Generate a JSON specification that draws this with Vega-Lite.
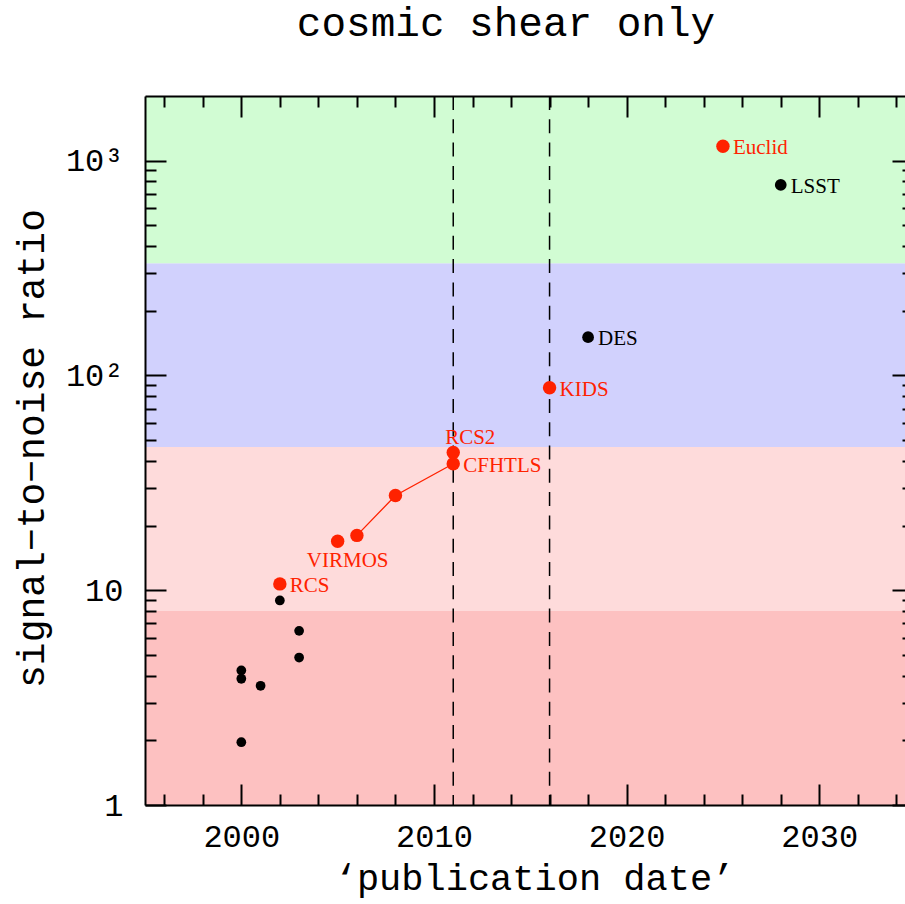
{
  "$schema": "https://vega.github.io/schema/vega-lite/v6.json",
  "autosize": "none",
  "width": 760,
  "height": 709,
  "padding": {"left": 145, "top": 96, "right": 0, "bottom": 99},
  "background": "white",
  "title": {
    "text": "cosmic shear only",
    "font": "Liberation Mono",
    "fontSize": 41,
    "fontWeight": "normal",
    "color": "black",
    "anchor": "middle",
    "frame": "group",
    "baseline": "alphabetic",
    "offset": 18,
    "dx": -19
  },
  "config": {
    "view": {"stroke": null},
    "axis": {
      "grid": false,
      "zindex": 2,
      "domainColor": "black",
      "domainWidth": 2,
      "tickColor": "black",
      "tickWidth": 2,
      "labelColor": "black",
      "labelFont": "Liberation Mono",
      "labelFontSize": 32,
      "titleColor": "black",
      "titleFont": "Liberation Mono",
      "titleFontWeight": "normal"
    }
  },
  "datasets": {
    "surveys": [
      {"survey": "", "year": 2000, "snr": 4.23, "group": "early"},
      {"survey": "", "year": 2000, "snr": 3.87, "group": "early"},
      {"survey": "", "year": 2000, "snr": 1.96, "group": "early"},
      {"survey": "", "year": 2001, "snr": 3.59, "group": "early"},
      {"survey": "", "year": 2002, "snr": 8.96, "group": "early"},
      {"survey": "", "year": 2003, "snr": 6.47, "group": "early"},
      {"survey": "", "year": 2003, "snr": 4.86, "group": "early"},
      {"survey": "RCS", "year": 2002, "snr": 10.7, "group": "shear", "trend": false},
      {"survey": "VIRMOS", "year": 2005, "snr": 16.9, "group": "shear", "trend": false},
      {"survey": "", "year": 2006, "snr": 18.0, "group": "shear", "trend": true},
      {"survey": "", "year": 2008, "snr": 27.6, "group": "shear", "trend": true},
      {"survey": "CFHTLS", "year": 2011, "snr": 38.8, "group": "shear", "trend": true},
      {"survey": "RCS2", "year": 2011, "snr": 43.8, "group": "shear", "trend": false},
      {"survey": "KIDS", "year": 2016, "snr": 87.7, "group": "shear", "trend": false},
      {"survey": "DES", "year": 2018, "snr": 150.7, "group": "future"},
      {"survey": "Euclid", "year": 2025, "snr": 1166, "group": "shear"},
      {"survey": "LSST", "year": 2028, "snr": 771, "group": "future"}
    ],
    "regimes": [
      {"regime": "detection", "lo": 1, "hi": 8},
      {"regime": "early", "lo": 8, "hi": 46.4},
      {"regime": "current", "lo": 46.4, "hi": 333},
      {"regime": "future", "lo": 333, "hi": 2000}
    ],
    "epochs": [{"year": 2011}, {"year": 2016}]
  },
  "resolve": {
    "axis": {"x": "independent", "y": "independent"},
    "scale": {"color": "independent", "size": "independent"}
  },
  "layer": [
    {
      "data": {"name": "regimes"},
      "mark": {"type": "rect", "strokeWidth": 0},
      "encoding": {
        "y": {"field": "lo", "type": "quantitative", "scale": {"type": "log", "domain": [1, 2000], "nice": false}, "axis": null},
        "y2": {"field": "hi"},
        "color": {
          "field": "regime",
          "type": "nominal",
          "scale": {"domain": ["detection", "early", "current", "future"], "range": ["#fdc1c1", "#fedbdb", "#d1d1fd", "#d1fcd3"]},
          "legend": null
        }
      }
    },
    {
      "data": {"name": "epochs"},
      "mark": {"type": "rule", "color": "black", "strokeWidth": 1.5, "strokeDash": [14, 9.3]},
      "encoding": {
        "x": {"field": "year", "type": "quantitative", "scale": {"domain": [1995, 2034.45], "nice": false, "zero": false}, "axis": null}
      }
    },
    {
      "data": {"name": "surveys"},
      "transform": [{"filter": "datum.trend === true"}],
      "mark": {"type": "line", "color": "#ff2200", "strokeWidth": 1.3},
      "encoding": {
        "x": {
          "field": "year", "type": "quantitative",
          "axis": {"orient": "bottom", "zindex": 2, "ticks": true, "values": [1996, 1998, 2002, 2004, 2006, 2008, 2012, 2014, 2016, 2018, 2022, 2024, 2026, 2028, 2032, 2034], "tickSize": -11, "labels": false, "domain": false, "title": null}
        },
        "y": {
          "field": "snr", "type": "quantitative",
          "axis": {"orient": "left", "zindex": 2, "ticks": true, "values": [2, 3, 4, 5, 6, 7, 8, 9, 20, 30, 40, 50, 60, 70, 80, 90, 200, 300, 400, 500, 600, 700, 800, 900], "tickSize": -11, "labels": false, "domain": false, "title": null}
        }
      }
    },
    {
      "data": {"name": "surveys"},
      "mark": {"type": "point", "filled": true, "opacity": 1, "shape": "circle", "strokeWidth": 0},
      "encoding": {
        "x": {
          "field": "year", "type": "quantitative",
          "scale": {"domain": [1995, 2034.45], "nice": false, "zero": false},
          "axis": {"orient": "bottom", "zindex": 2, "ticks": true, "values": [2000, 2010, 2020, 2030], "format": "d", "tickSize": -21, "labelPadding": 37, "title": "‘publication date’", "titleFontSize": 37, "titleX": 389, "titleY": 84, "titleBaseline": "alphabetic", "titleAlign": "center"}
        },
        "y": {
          "field": "snr", "type": "quantitative",
          "scale": {"type": "log", "domain": [1, 2000], "nice": false},
          "axis": {"orient": "left", "zindex": 2, "ticks": true, "values": [1, 10, 100, 1000], "tickSize": -21, "labelPadding": 43, "labelExpr": "datum.value == 1000 ? '10³' : datum.value == 100 ? '10²' : datum.label", "title": "signal−to−noise ratio", "titleFontSize": 38, "titleX": -102, "titleY": 352, "titleAngle": -90, "titleBaseline": "alphabetic", "titleAlign": "center"}
        },
        "color": {"field": "group", "type": "nominal", "scale": {"domain": ["shear", "future", "early"], "range": ["#ff2200", "black", "black"]}, "legend": null},
        "size": {"field": "group", "type": "nominal", "scale": {"domain": ["shear", "future", "early"], "range": [180, 95, 42]}, "legend": null}
      }
    },
    {
      "data": {"name": "surveys"},
      "transform": [{"filter": {"field": "survey", "oneOf": ["RCS", "CFHTLS", "KIDS", "DES", "LSST", "Euclid"]}}],
      "mark": {"type": "text", "align": "left", "baseline": "middle", "dx": 10, "dy": 2, "font": "Liberation Serif", "fontSize": 21},
      "encoding": {
        "x": {"field": "year", "type": "quantitative", "axis": {"orient": "top", "zindex": 2, "ticks": true, "values": [2000, 2010, 2020, 2030], "tickSize": -21, "labels": false, "title": null}},
        "y": {"field": "snr", "type": "quantitative", "axis": {"orient": "right", "zindex": 2, "ticks": true, "values": [1, 10, 100, 1000], "tickSize": -13, "labels": false, "domain": false, "title": null}},
        "text": {"field": "survey"},
        "color": {"field": "group", "type": "nominal", "scale": {"domain": ["shear", "future", "early"], "range": ["#ff2200", "black", "black"]}, "legend": null}
      }
    },
    {
      "data": {"name": "surveys"},
      "transform": [{"filter": "datum.survey === 'VIRMOS'"}],
      "mark": {"type": "text", "align": "center", "baseline": "middle", "dx": 10, "dy": 20, "font": "Liberation Serif", "fontSize": 21, "color": "#ff2200"},
      "encoding": {
        "x": {"field": "year", "type": "quantitative", "axis": {"orient": "top", "zindex": 2, "ticks": true, "values": [1996, 1998, 2002, 2004, 2006, 2008, 2012, 2014, 2016, 2018, 2022, 2024, 2026, 2028, 2032, 2034], "tickSize": -11, "labels": false, "domain": false, "title": null}},
        "y": {"field": "snr", "type": "quantitative", "axis": {"orient": "right", "zindex": 2, "ticks": true, "values": [2, 3, 4, 5, 6, 7, 8, 9, 20, 30, 40, 50, 60, 70, 80, 90, 200, 300, 400, 500, 600, 700, 800, 900], "tickSize": -3, "labels": false, "domain": false, "title": null}},
        "text": {"field": "survey"}
      }
    },
    {
      "data": {"name": "surveys"},
      "transform": [{"filter": "datum.survey === 'RCS2'"}],
      "mark": {"type": "text", "align": "center", "baseline": "middle", "dx": 17, "dy": -14, "font": "Liberation Serif", "fontSize": 21, "color": "#ff2200"},
      "encoding": {
        "x": {"field": "year", "type": "quantitative", "axis": null},
        "y": {"field": "snr", "type": "quantitative", "axis": null},
        "text": {"field": "survey"}
      }
    }
  ]
}
